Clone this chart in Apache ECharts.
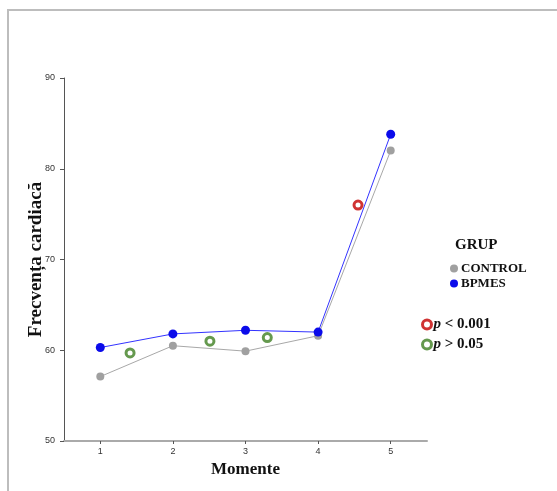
<!DOCTYPE html>
<html>
<head>
<meta charset="utf-8">
<script src="https://cdn.jsdelivr.net/npm/echarts@6/dist/echarts.min.js"></script>
<style>
html,body{margin:0;padding:0;background:#fff;}
#chart{width:557px;height:491px;}
</style>
</head>
<body>
<div id="chart"></div>
<script>
// moments on the x axis
var moments = [1, 2, 3, 4, 5];
// mean heart rate per group
var control = [57.1, 60.5, 59.9, 61.6, 82.0];
var bpmes = [60.3, 61.8, 62.2, 62.0, 83.8];
// significance markers (x position between moments, y value)
var sigX = [4.55];
var sigY = [76.0];
var nsX = [1.41, 2.51, 3.30];
var nsY = [59.7, 61.0, 61.4];

function pairs(xs, ys) {
    var out = [];
    for (var i = 0; i < xs.length; i++) out.push([xs[i], ys[i]]);
    return out;
}

var serif = '"Liberation Serif", "DejaVu Serif", serif';
var sans = 'Arial, "Liberation Sans", sans-serif';
var chart = echarts.init(document.getElementById('chart'));

var option = {
    animation: false,
    backgroundColor: '#fff',
    graphic: [{
        type: 'rect',
        shape: {x: 8, y: 10, width: 700, height: 700},
        style: {fill: null, stroke: '#bdbdbd', lineWidth: 2},
        silent: true
    }],
    title: {
        text: 'GRUP',
        left: 450,
        top: 233,
        textStyle: {fontFamily: serif, fontWeight: 'bold', fontSize: 15, color: '#111'}
    },
    legend: [{
        data: ['CONTROL', 'BPMES'],
        orient: 'vertical',
        left: 445,
        top: 257,
        itemWidth: 8,
        itemHeight: 8,
        itemGap: 2,
        icon: 'circle',
        textStyle: {fontFamily: serif, fontWeight: 'bold', fontSize: 13, color: '#111', padding: [0, 0, 0, -2]}
    }, {
        data: ['p < 0.001', 'p > 0.05'],
        orient: 'vertical',
        left: 416,
        top: 312,
        itemWidth: 9,
        itemHeight: 9,
        itemGap: 5,
        icon: 'circle',
        itemStyle: {borderWidth: 3},
        formatter: function (name) {
            return '{i|p}' + name.substring(1);
        },
        textStyle: {
            fontFamily: serif, fontWeight: 'bold', fontSize: 15, color: '#111', padding: [0, 0, 0, -3],
            rich: {i: {fontFamily: serif, fontWeight: 'bold', fontStyle: 'italic', fontSize: 15, color: '#111'}}
        }
    }],
    grid: {left: 64, top: 78, right: 130, bottom: 50, containLabel: false},
    xAxis: {
        type: 'value',
        min: 0.5,
        max: 5.5,
        name: 'Momente',
        nameLocation: 'middle',
        nameGap: 20,
        nameTextStyle: {fontFamily: serif, fontWeight: 'bold', fontSize: 17, color: '#111'},
        axisLine: {show: true, lineStyle: {color: '#aaa', width: 2}},
        axisTick: {show: true, length: 3, customValues: moments, lineStyle: {color: '#555'}},
        axisLabel: {customValues: moments, fontSize: 9, color: '#333', margin: 6, fontFamily: sans},
        splitLine: {show: false}
    },
    yAxis: {
        type: 'value',
        min: 50,
        max: 90,
        interval: 10,
        name: 'Frecvența cardiacă',
        nameLocation: 'middle',
        nameRotate: 90,
        nameGap: 18,
        nameMoveOverlap: false,
        nameTextStyle: {fontFamily: serif, fontWeight: 'bold', fontSize: 19, color: '#111'},
        axisLine: {show: true, lineStyle: {color: '#555', width: 1}},
        axisTick: {show: true, length: 4, lineStyle: {color: '#555'}},
        axisLabel: {fontSize: 9, color: '#333', margin: 9, fontFamily: sans},
        splitLine: {show: false}
    },
    series: [{
        name: 'CONTROL',
        type: 'line',
        data: pairs(moments, control),
        symbol: 'circle',
        symbolSize: 8,
        lineStyle: {color: '#a8a8a8', width: 1},
        itemStyle: {color: '#a0a0a0'}
    }, {
        name: 'BPMES',
        type: 'line',
        data: pairs(moments, bpmes),
        symbol: 'circle',
        symbolSize: 9,
        lineStyle: {color: '#3333ff', width: 1},
        itemStyle: {color: '#0b0bea'}
    }, {
        name: 'p < 0.001',
        type: 'scatter',
        data: pairs(sigX, sigY),
        symbol: 'circle',
        symbolSize: 8,
        itemStyle: {color: '#fff', borderColor: '#c40000', borderWidth: 3}
    }, {
        name: 'p > 0.05',
        type: 'scatter',
        data: pairs(nsX, nsY),
        symbol: 'circle',
        symbolSize: 8,
        itemStyle: {color: '#fff', borderColor: '#3f7f22', borderWidth: 3}
    }]
};
chart.setOption(option);
</script>
</body>
</html>
